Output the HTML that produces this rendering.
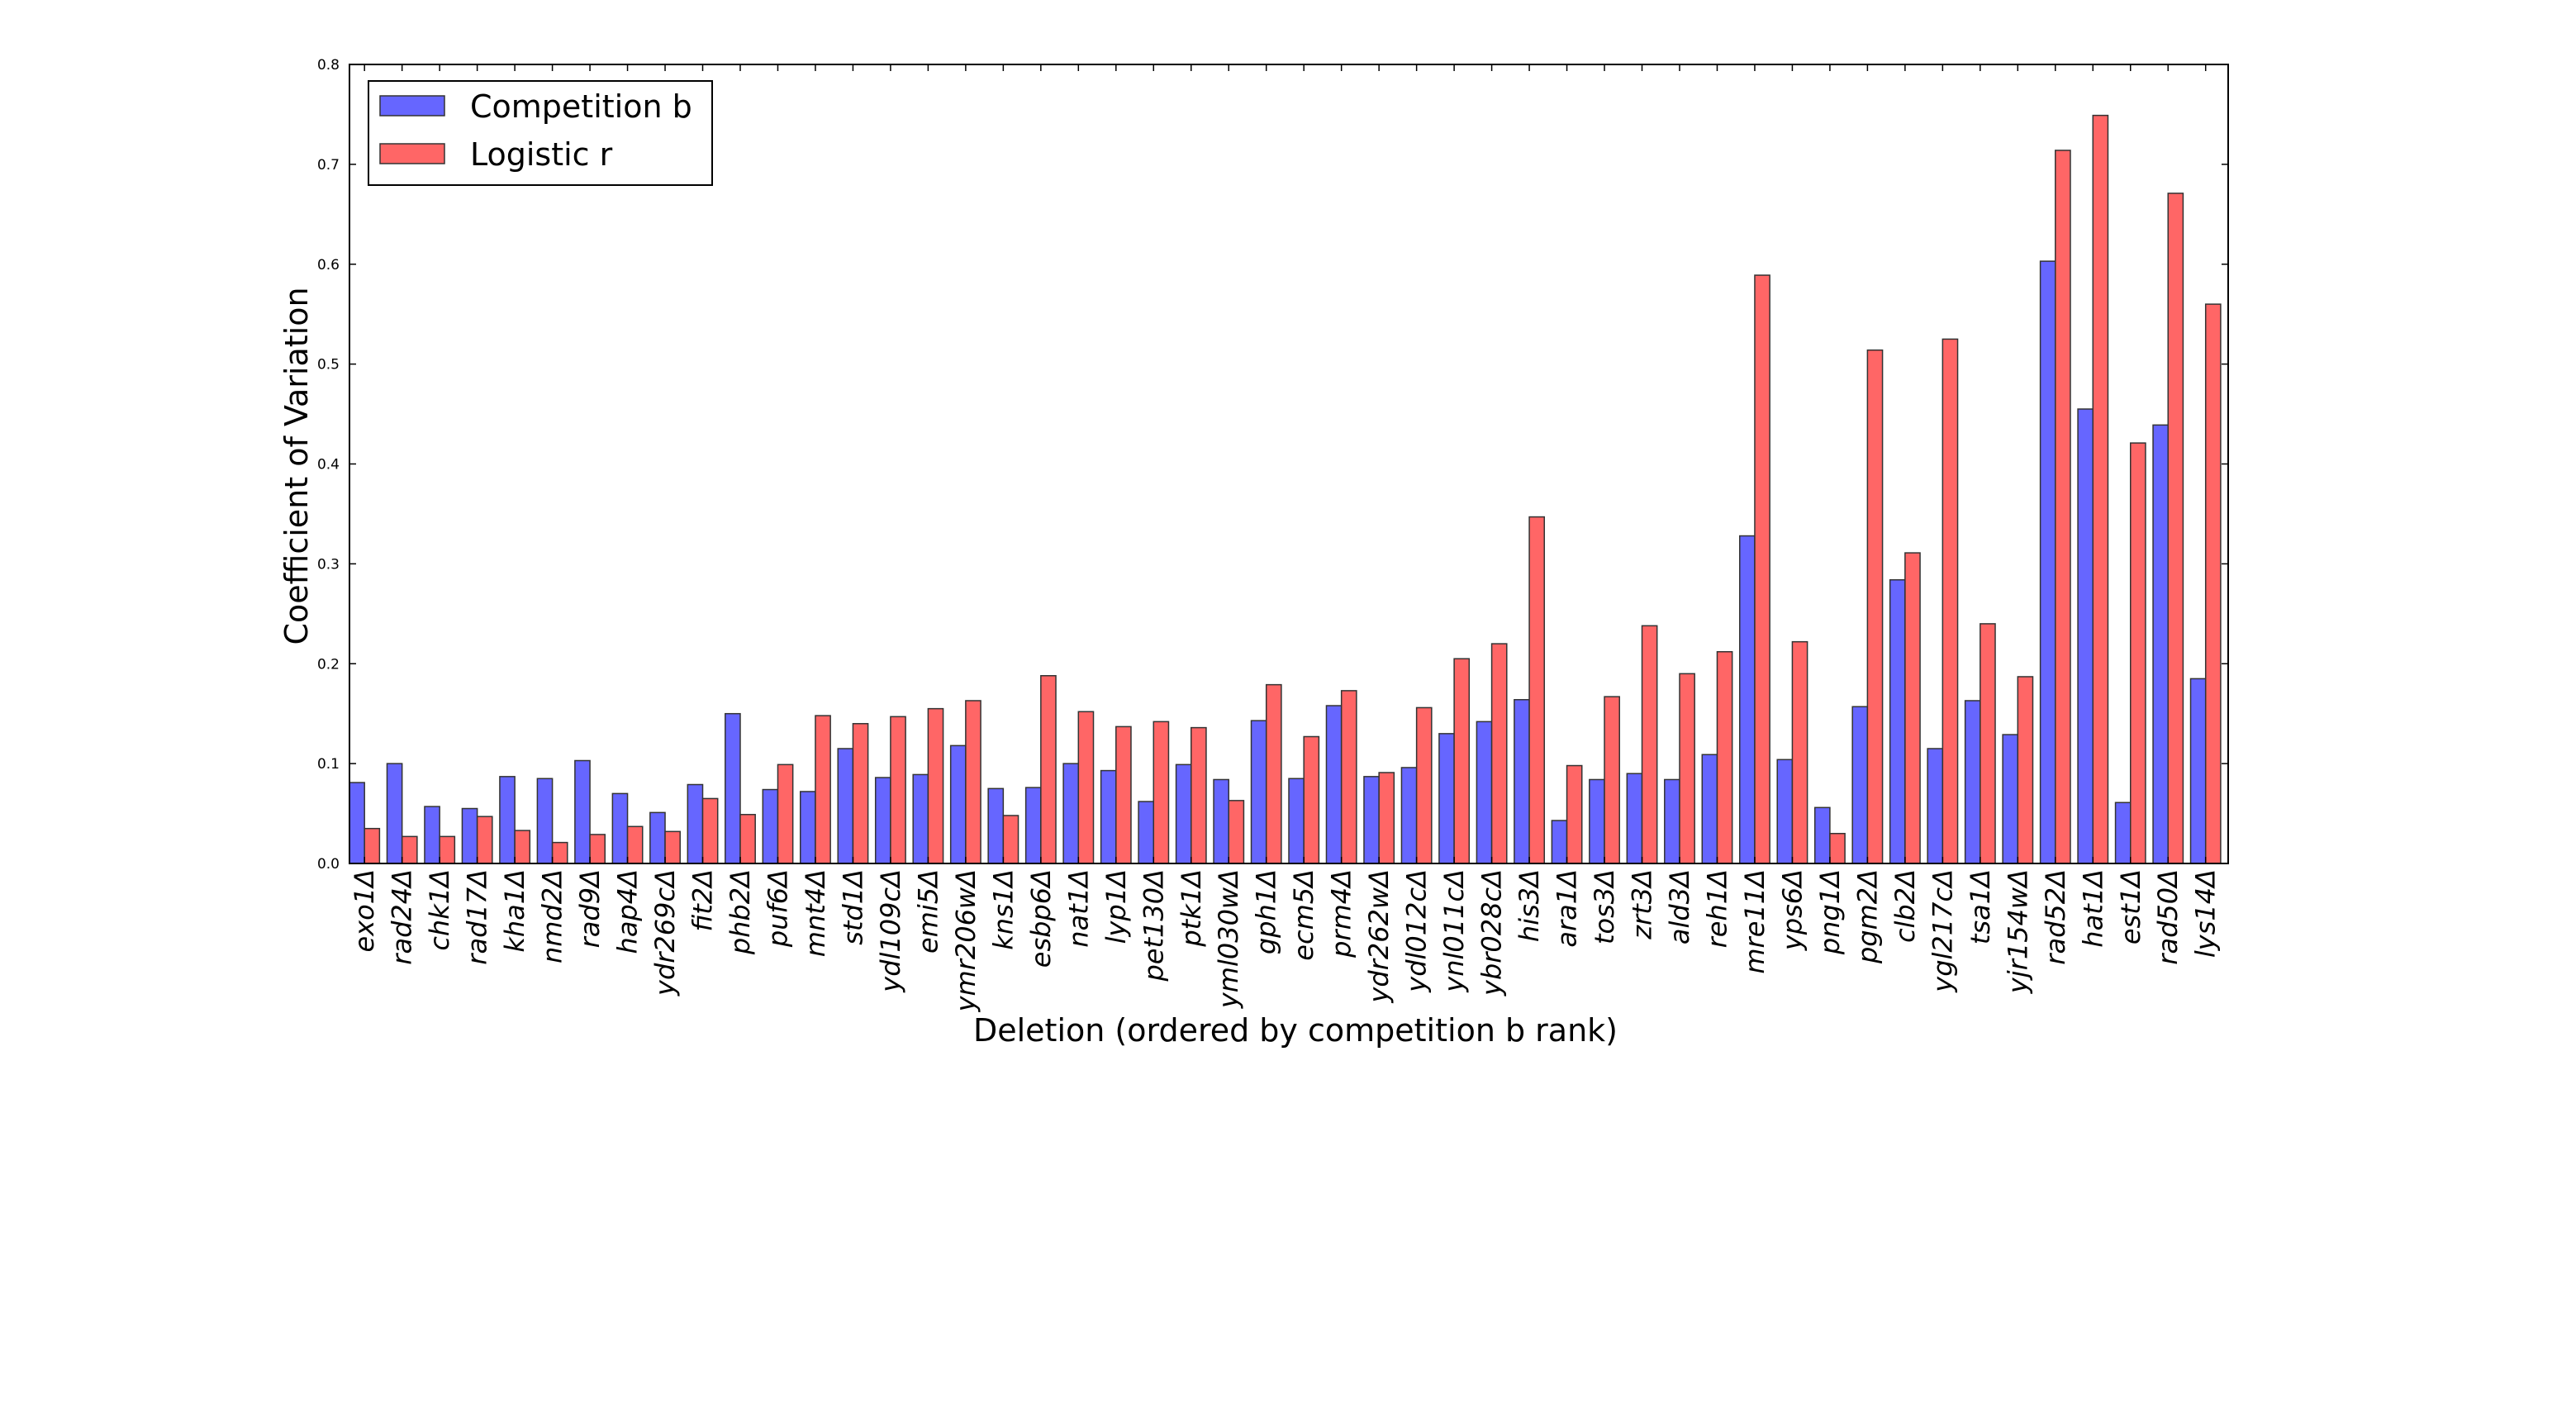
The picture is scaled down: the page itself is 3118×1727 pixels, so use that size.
<!DOCTYPE html>
<html><head><meta charset="utf-8"><style>
html,body{margin:0;padding:0;background:#fff;}
svg{display:block;font-family:"DejaVu Sans","Liberation Sans",sans-serif;}
</style></head><body>
<svg id="chart" width="3118" height="1727" viewBox="0 0 3118 1727" xmlns="http://www.w3.org/2000/svg">
<rect width="3118" height="1727" fill="#fff"/>
<g id="bars"></g>
<g id="axes"></g>
<g id="legend">
  <rect x="446" y="98" width="416" height="126" fill="#fff" stroke="#000" stroke-width="2"/>
  <rect x="460" y="116" width="78" height="24" fill="#6666ff" stroke="#333" stroke-width="1.5"/>
  <text x="569" y="142" font-size="38">Competition b</text>
  <rect x="460" y="174" width="78" height="24" fill="#ff6666" stroke="#333" stroke-width="1.5"/>
  <text x="569" y="200" font-size="38">Logistic r</text>
</g>
<text x="1568" y="1260" font-size="38" text-anchor="middle">Deletion (ordered by competition b rank)</text>
<text transform="translate(372,564) rotate(-90)" font-size="38" text-anchor="middle">Coefficient of Variation</text>
</svg>
<script>
const categories = ["exo1","rad24","chk1","rad17","kha1","nmd2","rad9","hap4","ydr269c","fit2","phb2","puf6","mnt4","std1","ydl109c","emi5","ymr206w","kns1","esbp6","nat1","lyp1","pet130","ptk1","yml030w","gph1","ecm5","prm4","ydr262w","ydl012c","ynl011c","ybr028c","his3","ara1","tos3","zrt3","ald3","reh1","mre11","yps6","png1","pgm2","clb2","ygl217c","tsa1","yjr154w","rad52","hat1","est1","rad50","lys14"];
const competitionB = [0.081,0.100,0.057,0.055,0.087,0.085,0.103,0.070,0.051,0.079,0.150,0.074,0.072,0.115,0.086,0.089,0.118,0.075,0.076,0.100,0.093,0.062,0.099,0.084,0.143,0.085,0.158,0.087,0.096,0.130,0.142,0.164,0.043,0.084,0.090,0.084,0.109,0.328,0.104,0.056,0.157,0.284,0.115,0.163,0.129,0.603,0.455,0.061,0.439,0.185];
const logisticR = [0.035,0.027,0.027,0.047,0.033,0.021,0.029,0.037,0.032,0.065,0.049,0.099,0.148,0.140,0.147,0.155,0.163,0.048,0.188,0.152,0.137,0.142,0.136,0.063,0.179,0.127,0.173,0.091,0.156,0.205,0.220,0.347,0.098,0.167,0.238,0.190,0.212,0.589,0.222,0.030,0.514,0.311,0.525,0.240,0.187,0.714,0.749,0.421,0.671,0.560];
const yTicks = ["0.0","0.1","0.2","0.3","0.4","0.5","0.6","0.7","0.8"];

const NS="http://www.w3.org/2000/svg";
const L=423,R=2697,T=78,B=1045,YMAX=0.8,XMAX=50,BW=0.4;
function xs(v){return L+(v/XMAX)*(R-L);}
function ys(v){return B-(v/YMAX)*(B-T);}
function mk(tag,attrs,parent){const e=document.createElementNS(NS,tag);for(const k in attrs)e.setAttribute(k,attrs[k]);parent.appendChild(e);return e;}
const bars=document.getElementById('bars');
const axes=document.getElementById('axes');
categories.forEach((c,i)=>{
  const b=mk('rect',{x:xs(i),y:ys(competitionB[i]),width:xs(i+BW)-xs(i),height:ys(0)-ys(competitionB[i]),fill:'#6666ff',stroke:'#333','stroke-width':1.5},bars);
  
  
  const r=mk('rect',{x:xs(i+BW),y:ys(logisticR[i]),width:xs(i+2*BW)-xs(i+BW),height:ys(0)-ys(logisticR[i]),fill:'#ff6666',stroke:'#333','stroke-width':1.5},bars);
  
  
  const tx=xs(i+BW);
  const t1=mk('line',{x1:tx,x2:tx,y1:B,y2:B-8,stroke:'#000','stroke-width':1.5},axes);
  
  
  const t2=mk('line',{x1:tx,x2:tx,y1:T,y2:T+8,stroke:'#000','stroke-width':1.5},axes);
  
  
  const lb=mk('text',{transform:`translate(${tx+11},1052) rotate(-90)`,'font-size':32,'font-style':'italic','text-anchor':'end'},axes);
  lb.textContent=c+'Δ';
  
  
});
yTicks.forEach((s)=>{
  const v=parseFloat(s),y=ys(v);
  const a=mk('line',{x1:L,x2:L+8,y1:y,y2:y,stroke:'#000','stroke-width':1.5},axes);
  
  
  const b=mk('line',{x1:R,x2:R-8,y1:y,y2:y,stroke:'#000','stroke-width':1.5},axes);
  
  
  const t=mk('text',{x:L-12,y:y+6,'font-size':17,'text-anchor':'end'},axes);
  t.textContent=s;
  
  
});
const f=mk('rect',{x:L,y:T,width:R-L,height:B-T,fill:'none',stroke:'#000','stroke-width':2},axes);


</script>
</body></html>
